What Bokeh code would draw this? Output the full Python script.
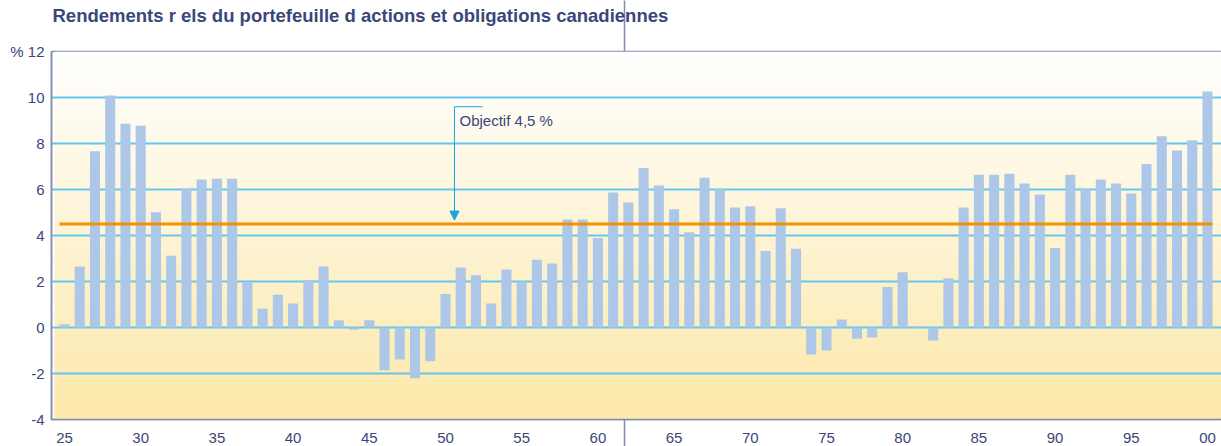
import numpy as np
from bokeh.plotting import figure
from bokeh.models import (Range1d, FixedTicker, Arrow, NormalHead, Label, LinearAxis)
from bokeh.embed import file_html
from bokeh.resources import INLINE

# ---- data ----
years = list(range(1925, 2001))
returns = [
    0.14, 2.65, 7.66, 10.09, 8.86, 8.77, 5.01, 3.12, 6.04, 6.43,
    6.47, 6.47, 1.99, 0.82, 1.42, 1.04, 2.06, 2.65, 0.31, -0.10,
    0.31, -1.86, -1.39, -2.21, -1.47, 1.46, 2.61, 2.27, 1.04, 2.52,
    2.00, 2.95, 2.78, 4.70, 4.70, 3.89, 5.87, 5.44, 6.94, 6.17,
    5.14, 4.14, 6.51, 6.00, 5.22, 5.27, 3.33, 5.18, 3.42, -1.17,
    -1.00, 0.35, -0.49, -0.44, 1.76, 2.40, 0.06, -0.57, 2.14, 5.22,
    6.64, 6.64, 6.68, 6.26, 5.78, 3.46, 6.64, 6.04, 6.43, 6.26,
    5.83, 7.11, 8.32, 7.70, 8.14, 10.26,
]
objective = 4.5
objective_label = "Objectif 4,5 %"
title_text = "Rendements r els du portefeuille d actions et obligations canadiennes"
x_ticks = list(range(1925, 2001, 5))
x_tick_labels = ["25", "30", "35", "40", "45", "50", "55", "60", "65", "70",
                 "75", "80", "85", "90", "95", "00"]
y_ticks = [-4, -2, 0, 2, 4, 6, 8, 10, 12]
y_tick_labels = ["-4", "-2", "0", "2", "4", "6", "8", "10", "% 12"]

# ---- style ----
FONT = "Liberation Sans"
TXT = "#3b4679"
AXIS = "#7f8bb3"
BAR = "#adc7e8"
GRID = "#62c7f0"
ORANGE = "#ef9300"
CYAN = "#14a7de"

XMIN, XMAX = 1924.147, 2000.92
YMIN, YMAX = -4, 12
DIVX = 1961.73  # page divider crossing the chart

p = figure(frame_width=1170, frame_height=368, width=1221, height=446,
           min_border_left=51, min_border_right=0, min_border_top=51,
           min_border_bottom=27, output_backend="svg", toolbar_location=None,
           x_range=Range1d(XMIN, XMAX), y_range=Range1d(YMIN, YMAX))
p.background_fill_color = "white"
p.border_fill_color = "white"
p.outline_line_color = AXIS
p.outline_line_width = 1.5

# gradient background (image level, below grid)
n = 200
top = np.array([255, 255, 255])
bot = np.array([253, 233, 170])
t = np.linspace(0, 1, n)[:, None]  # 0 at bottom row
cols = bot + (top - bot) * t
img = np.zeros((n, 1), dtype=np.uint32)
view = img.view(dtype=np.uint8).reshape((n, 1, 4))
view[:, 0, 0] = cols[:, 0]
view[:, 0, 1] = cols[:, 1]
view[:, 0, 2] = cols[:, 2]
view[:, 0, 3] = 255
gx0 = XMIN + 3 / 15.24
r_img = p.image_rgba(image=[img], x=gx0, y=YMIN, dw=XMAX - gx0, dh=YMAX - YMIN)
r_img.level = "image"

# bars
p.vbar(x=years, top=returns, width=0.66, color=BAR, line_color=None)

# objective line
bw = 0.66
p.line(x=[years[0] - bw / 2, years[-1] + bw / 2], y=[objective, objective],
       line_color=ORANGE, line_width=3)

# annotation arrow + bracket + label
ax = 1950.59
p.add_layout(Arrow(end=NormalHead(size=9, fill_color=CYAN, line_color=CYAN),
                   x_start=ax, y_start=9.6, x_end=ax, y_end=objective + 0.17,
                   line_color=CYAN, line_width=1))
p.segment(x0=[ax], y0=[9.6], x1=[1952.43], y1=[9.6], line_color=CYAN, line_width=1)
p.add_layout(Label(x=1950.92, y=8.98, text=objective_label, text_font=FONT,
                   text_font_size="15px", text_color=TXT, text_baseline="middle"))

# bottom and left axes
bottom_axis = p.below[0]
left_axis = p.left[0]
for ax_ in (bottom_axis, left_axis):
    ax_.axis_line_color = AXIS
    ax_.axis_line_width = 1.5
    ax_.major_tick_line_color = None
    ax_.major_tick_out = 0
    ax_.major_tick_in = 0
    ax_.major_label_text_font = FONT
    ax_.major_label_text_font_size = "15px"
    ax_.major_label_text_color = TXT
left_axis.minor_tick_line_color = None
left_axis.ticker = FixedTicker(ticks=y_ticks)
left_axis.major_label_overrides = {k: v for k, v in zip(y_ticks, y_tick_labels)}
left_axis.major_label_standoff = 7

# bottom axis: labels + divider stub below the frame (as a minor tick)
bottom_axis.ticker = FixedTicker(ticks=x_ticks, minor_ticks=[DIVX])
bottom_axis.minor_tick_out = 27
bottom_axis.minor_tick_in = 0
bottom_axis.minor_tick_line_color = AXIS
bottom_axis.minor_tick_line_width = 1.5
bottom_axis.major_label_overrides = {k: v for k, v in zip(x_ticks, x_tick_labels)}
bottom_axis.major_label_standoff = -14

# top axis: only the divider stub above the frame
top_axis = LinearAxis(ticker=FixedTicker(ticks=[DIVX], minor_ticks=[DIVX]),
                      axis_line_color=None, major_tick_line_color=None,
                      major_tick_out=0, major_tick_in=0,
                      minor_tick_out=51, minor_tick_in=0,
                      minor_tick_line_color=AXIS, minor_tick_line_width=1.5,
                      major_label_overrides={DIVX: " "},
                      major_label_text_font_size="1px",
                      major_label_standoff=-31)
p.add_layout(top_axis, "above")

# title
p.title.text = title_text
p.title.text_font = FONT
p.title.text_font_size = "18.5px"
p.title.text_font_style = "bold"
p.title.text_color = TXT
p.title.offset = 1
p.title.standoff = 4

p.xgrid.grid_line_color = None
p.ygrid.grid_line_color = GRID
p.ygrid.grid_line_width = 2
p.ygrid.ticker = FixedTicker(ticks=[-2, 0, 2, 4, 6, 8, 10])

open("out.html", "w").write(file_html(p, INLINE))
